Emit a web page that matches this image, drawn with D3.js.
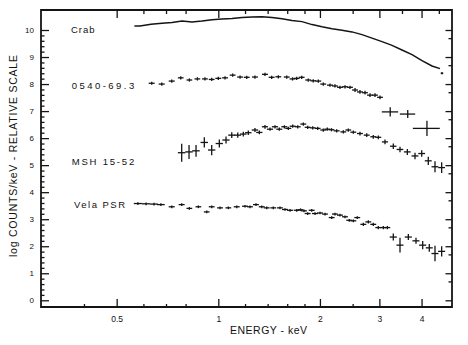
<!DOCTYPE html>
<html>
<head>
<meta charset="utf-8">
<script src="https://cdn.jsdelivr.net/npm/d3@7/dist/d3.min.js"></script>
<style>
  html, body { margin: 0; padding: 0; background: #fff; }
  svg { display: block; }
  text { font-family: "Liberation Sans", Arial, sans-serif; fill: #111; }
</style>
</head>
<body>
<svg id="chart" width="468" height="345"></svg>
<script>
// ---------------- DATA ----------------
const seriesNames = ["Crab", "0540-69.3", "MSH 15-52", "Vela PSR"];

// Crab (keV, log counts)
const crabE = [0.586,0.632,0.681,0.729,0.781,0.836,0.895,0.958,1.025,1.098,1.176,1.259,1.347,1.442,1.544,1.653,1.770,1.895,2.029,2.172,2.325,2.489,2.665,2.853,3.054,3.270,3.500,3.748,4.012,4.295,4.536,4.598];
const crabV = [10.15,10.21,10.25,10.28,10.33,10.30,10.33,10.38,10.41,10.43,10.46,10.48,10.49,10.46,10.42,10.35,10.31,10.20,10.12,10.05,9.99,9.93,9.83,9.70,9.57,9.43,9.26,9.09,8.87,8.67,8.57,8.40];

// 0540-69.3
const psr0540E  = [0.635,0.680,0.728,0.774,0.821,0.867,0.913,0.956,1.000,1.047,1.103,1.160,1.214,1.284,1.375,1.439,1.506,1.595,1.659,1.707,1.766,1.847,1.911,1.978,2.046,2.142,2.216,2.293,2.373,2.455,2.541,2.628,2.720,2.814,2.912,3.013,3.23,3.64,4.15];
const psr0540V  = [8.03,8.00,8.11,8.23,8.15,8.19,8.19,8.17,8.21,8.23,8.33,8.26,8.25,8.26,8.36,8.25,8.27,8.26,8.19,8.21,8.25,8.15,8.12,8.11,8.00,7.96,7.93,7.88,7.90,7.88,7.78,7.71,7.68,7.59,7.59,7.51,6.97,6.89,6.36];
const psr0540dE = [0.013,0.014,0.015,0.015,0.016,0.017,0.018,0.019,0.020,0.021,0.022,0.023,0.024,0.026,0.028,0.029,0.030,0.032,0.033,0.034,0.035,0.037,0.038,0.040,0.041,0.043,0.044,0.046,0.047,0.049,0.051,0.053,0.054,0.056,0.058,0.060,0.18,0.19,0.38];
const psr0540dV = [0.06,0.06,0.06,0.06,0.06,0.06,0.06,0.06,0.06,0.06,0.06,0.06,0.06,0.06,0.06,0.06,0.06,0.06,0.06,0.06,0.06,0.06,0.06,0.06,0.06,0.06,0.06,0.06,0.06,0.06,0.07,0.07,0.07,0.07,0.07,0.07,0.17,0.15,0.28];

// MSH 15-52
const mshE  = [0.779,0.819,0.859,0.909,0.956,1.007,1.054,1.096,1.142,1.186,1.227,1.284,1.323,1.375,1.423,1.472,1.516,1.569,1.612,1.661,1.719,1.786,1.840,1.904,1.970,2.046,2.103,2.164,2.242,2.346,2.427,2.512,2.628,2.752,2.878,2.978,3.117,3.299,3.453,3.630,3.825,4.004,4.188,4.384,4.588];
const mshV  = [5.46,5.49,5.53,5.84,5.56,5.80,5.93,6.11,6.11,6.15,6.20,6.30,6.21,6.42,6.33,6.42,6.33,6.42,6.36,6.44,6.42,6.52,6.40,6.38,6.36,6.30,6.33,6.31,6.27,6.23,6.30,6.22,6.17,6.11,6.05,6.03,5.86,5.70,5.58,5.49,5.34,5.43,5.16,4.94,4.91];
const mshdE = [0.020,0.021,0.022,0.023,0.024,0.025,0.026,0.026,0.026,0.026,0.027,0.028,0.028,0.029,0.030,0.031,0.031,0.032,0.033,0.034,0.035,0.036,0.037,0.038,0.039,0.041,0.042,0.043,0.045,0.047,0.048,0.050,0.053,0.055,0.058,0.060,0.065,0.072,0.078,0.084,0.090,0.094,0.098,0.102,0.106];
const mshdV = [0.33,0.26,0.22,0.19,0.19,0.15,0.13,0.11,0.10,0.09,0.08,0.07,0.07,0.07,0.06,0.06,0.06,0.06,0.06,0.06,0.06,0.06,0.06,0.06,0.06,0.06,0.06,0.06,0.06,0.06,0.06,0.06,0.07,0.07,0.07,0.07,0.09,0.10,0.10,0.11,0.12,0.12,0.15,0.20,0.20];

// Vela PSR
const velaE  = [0.578,0.611,0.645,0.676,0.728,0.779,0.821,0.873,0.924,0.956,1.012,1.071,1.134,1.200,1.241,1.293,1.345,1.391,1.455,1.523,1.576,1.631,1.707,1.752,1.794,1.840,1.891,1.934,2.001,2.071,2.167,2.216,2.293,2.373,2.443,2.512,2.580,2.689,2.782,2.878,2.978,3.082,3.168,3.299,3.453,3.655,3.851,4.031,4.217,4.384,4.588];
const velaV  = [3.58,3.57,3.56,3.54,3.46,3.54,3.40,3.46,3.27,3.46,3.42,3.42,3.46,3.48,3.46,3.54,3.46,3.42,3.42,3.42,3.36,3.33,3.33,3.35,3.31,3.21,3.33,3.21,3.23,3.19,3.06,3.19,3.15,3.09,2.96,2.94,3.06,2.81,2.90,2.81,2.69,2.69,2.69,2.34,2.04,2.34,2.20,2.04,1.94,1.73,1.81];
const veladE = [0.016,0.017,0.017,0.018,0.015,0.016,0.016,0.017,0.018,0.019,0.020,0.021,0.023,0.024,0.025,0.026,0.027,0.028,0.029,0.030,0.032,0.033,0.034,0.035,0.036,0.037,0.038,0.039,0.040,0.041,0.043,0.044,0.046,0.047,0.049,0.050,0.052,0.054,0.056,0.058,0.060,0.062,0.063,0.080,0.083,0.088,0.092,0.097,0.101,0.105,0.110];
const veladV = [0.05,0.05,0.05,0.05,0.05,0.05,0.05,0.05,0.05,0.05,0.05,0.05,0.05,0.05,0.05,0.05,0.05,0.05,0.05,0.05,0.05,0.05,0.05,0.05,0.05,0.05,0.05,0.05,0.05,0.05,0.05,0.05,0.05,0.05,0.05,0.05,0.05,0.06,0.06,0.06,0.06,0.06,0.06,0.13,0.27,0.11,0.11,0.15,0.14,0.29,0.19];

// Ticks
const xMajorTicks = [0.5, 1, 2, 3, 4];
const xMajorLabels = ["0.5", "1", "2", "3", "4"];
const xMinorBottom = [0.4, 0.6, 0.7, 0.8, 1.2, 1.4, 1.6, 1.8, 2.5];
const xMinorTop = [0.6, 0.7, 0.8, 1.2, 1.4, 1.6, 1.8, 2.5, 3.5, 4.5];
const yMajorTicks = [0,1,2,3,4,5,6,7,8,9,10];
const yMajorLabels = ["0","1","2","3","4","5","6","7","8","9","10"];
const xTitle = "ENERGY - keV";
const yTitle = "log COUNTS/keV - RELATIVE SCALE";

// ---------------- CHART ----------------
const svg = d3.select("#chart");
const L = 41, R = 452, T = 10, B = 307;
const x = d3.scaleLog().domain([0.2984, 4.923]).range([L, R]);
const y = d3.scaleLinear().domain([-0.248, 10.74]).range([B, T]);
const ink = "#141414";

const yMinorLeft = d3.range(0, 10.01, 0.2).map(d => +d.toFixed(2)).filter(d => Math.abs(d - Math.round(d)) > 1e-6);
const yMinorRight = d3.range(0, 10).map(n => +(n + Math.log10(5)).toFixed(3));

function styleAxis(g) {
  g.select(".domain").remove();
  g.selectAll(".tick line").attr("stroke", ink).attr("stroke-width", 1.3);
  g.selectAll(".tick text").attr("fill", ink);
}

svg.append("g").attr("transform", `translate(${L},0)`)
  .call(d3.axisLeft(y).tickValues(yMajorTicks).tickSize(-8).tickPadding(7)
    .tickFormat((d, i) => yMajorLabels[i]))
  .call(styleAxis)
  .call(g => g.selectAll(".tick text").style("font-size", "8px").style("font-family", "Liberation Sans, Arial, sans-serif"));
svg.append("g").attr("transform", `translate(${L},0)`)
  .call(d3.axisLeft(y).tickValues(yMinorLeft).tickSize(-3.5).tickFormat(""))
  .call(styleAxis);

svg.append("g").attr("transform", `translate(${R},0)`)
  .call(d3.axisRight(y).tickValues(yMajorTicks).tickSize(-6.5).tickFormat(""))
  .call(styleAxis);
svg.append("g").attr("transform", `translate(${R},0)`)
  .call(d3.axisRight(y).tickValues(yMinorRight).tickSize(-3.5).tickFormat(""))
  .call(styleAxis);

svg.append("g").attr("transform", `translate(0,${B})`)
  .call(d3.axisBottom(x).tickValues(xMajorTicks).tickSize(-8).tickPadding(9)
    .tickFormat((d, i) => xMajorLabels[i]))
  .call(styleAxis)
  .call(g => g.selectAll(".tick text").style("font-size", "8.5px").style("font-family", "Liberation Sans, Arial, sans-serif"));
svg.append("g").attr("transform", `translate(0,${B})`)
  .call(d3.axisBottom(x).tickValues(xMinorBottom).tickSize(-3).tickFormat(""))
  .call(styleAxis);

svg.append("g").attr("transform", `translate(0,${T})`)
  .call(d3.axisTop(x).tickValues(xMajorTicks).tickSize(-8).tickFormat(""))
  .call(styleAxis);
svg.append("g").attr("transform", `translate(0,${T})`)
  .call(d3.axisTop(x).tickValues(xMinorTop).tickSize(-4).tickFormat(""))
  .call(styleAxis);

svg.append("path")
  .attr("d", `M${L},${T}H${R}V${B}H${L}Z`)
  .attr("fill", "none").attr("stroke", ink).attr("stroke-width", 1.8);

// Crab: near-continuous line through bin centres, starting at first bin's lower edge
const crabN = crabE.length - 1; // last bin drawn detached
const crabPts = [[crabE[0] / Math.sqrt(crabE[1] / crabE[0]), crabV[0]]];
for (let i = 0; i < crabN; i++) crabPts.push([crabE[i], crabV[i]]);
svg.append("path")
  .attr("d", d3.line().x(d => x(d[0])).y(d => y(d[1]))(crabPts))
  .attr("fill", "none").attr("stroke", ink).attr("stroke-width", 1.5);
svg.append("line")
  .attr("x1", x(crabE[crabN]) - 1.2).attr("x2", x(crabE[crabN]) + 1.2)
  .attr("y1", y(crabV[crabN])).attr("y2", y(crabV[crabN]))
  .attr("stroke", ink).attr("stroke-width", 2);

function crosses(E, V, dE, dV) {
  const data = E.map((e, i) => ({ e, v: V[i], de: dE[i], dv: dV[i] }));
  const g = svg.append("g").attr("stroke", ink).attr("stroke-width", 1.3);
  g.selectAll("line.h").data(data).join("line").attr("class", "h")
    .attr("x1", d => x(d.e - d.de)).attr("x2", d => x(d.e + d.de))
    .attr("y1", d => y(d.v)).attr("y2", d => y(d.v));
  g.selectAll("line.v").data(data).join("line").attr("class", "v")
    .attr("x1", d => x(d.e)).attr("x2", d => x(d.e))
    .attr("y1", d => y(d.v - d.dv)).attr("y2", d => y(d.v + d.dv));
}
crosses(psr0540E, psr0540V, psr0540dE, psr0540dV);
crosses(mshE, mshV, mshdE, mshdV);
crosses(velaE, velaV, veladE, veladV);

const labelPos = [
  { x: 71, y: 32.7, w: 23.5 },
  { x: 71.7, y: 89.3, w: 62.5 },
  { x: 71.7, y: 165, w: 62.5 },
  { x: 74, y: 208.3, w: 51 }
];
seriesNames.forEach((name, i) => {
  svg.append("text")
    .attr("x", labelPos[i].x).attr("y", labelPos[i].y)
    .attr("textLength", labelPos[i].w).attr("lengthAdjust", "spacing")
    .style("font-size", "9.5px")
    .text(name);
});

svg.append("text")
  .attr("x", 230).attr("y", 334)
  .attr("textLength", 77).attr("lengthAdjust", "spacing")
  .style("font-size", "10.5px")
  .text(xTitle);

svg.append("text")
  .attr("transform", "translate(16.7,156) rotate(-90)")
  .attr("text-anchor", "middle")
  .attr("textLength", 202).attr("lengthAdjust", "spacing")
  .style("font-size", "10.5px")
  .text(yTitle);
</script>
</body>
</html>
